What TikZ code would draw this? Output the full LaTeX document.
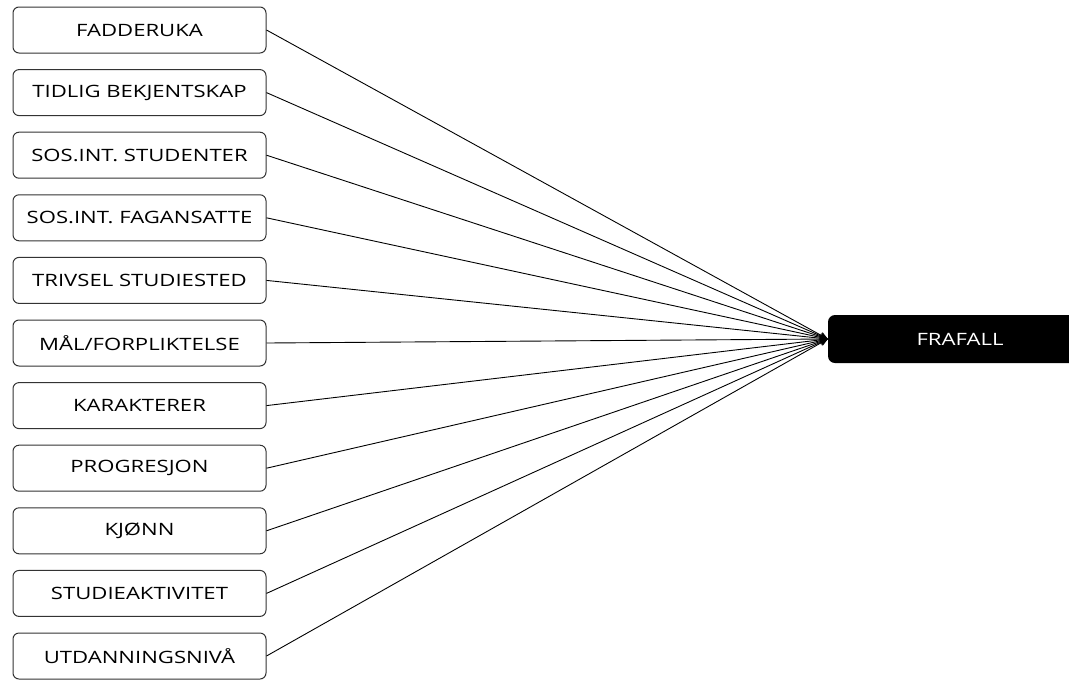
\documentclass[tikz,border=0pt]{standalone}
\usepackage{fontspec}
\setmainfont{Open Sans}[FakeStretch=1.3]
\usetikzlibrary{arrows.meta}

\begin{document}
\begin{tikzpicture}[x=1pt,y=-1pt,
  faktor/.style={draw=black!80, line width=1pt, rounded corners=6pt,
    minimum width=253pt, minimum height=46pt, inner sep=0pt,
    font=\fontsize{17}{20}\selectfont},
  utfall/.style={fill=black, text=white, rounded corners=7pt,
    minimum width=264pt, minimum height=48pt, inner sep=0pt,
    font=\fontsize{17}{20}\selectfont},
  pil/.style={-{Stealth[length=8pt,width=7pt]}, line width=0.9pt}]
\useasboundingbox (0,0) rectangle (1069,681);
\node[utfall] (frafall) at (960,339) {FRAFALL};
% faktorene til venstre
\foreach \tekst [count=\i from 0] in {FADDERUKA, TIDLIG BEKJENTSKAP,
    SOS.INT. STUDENTER, SOS.INT. FAGANSATTE, TRIVSEL STUDIESTED,
    MÅL/FORPLIKTELSE, KARAKTERER, PROGRESJON, KJØNN,
    STUDIEAKTIVITET, UTDANNINGSNIVÅ}
    {\node[faktor] (f\i) at (139.5,30+62.6*\i) {\tekst};
    \draw[pil] (f\i.east) -- (frafall.west);}
\end{tikzpicture}
\end{document}
